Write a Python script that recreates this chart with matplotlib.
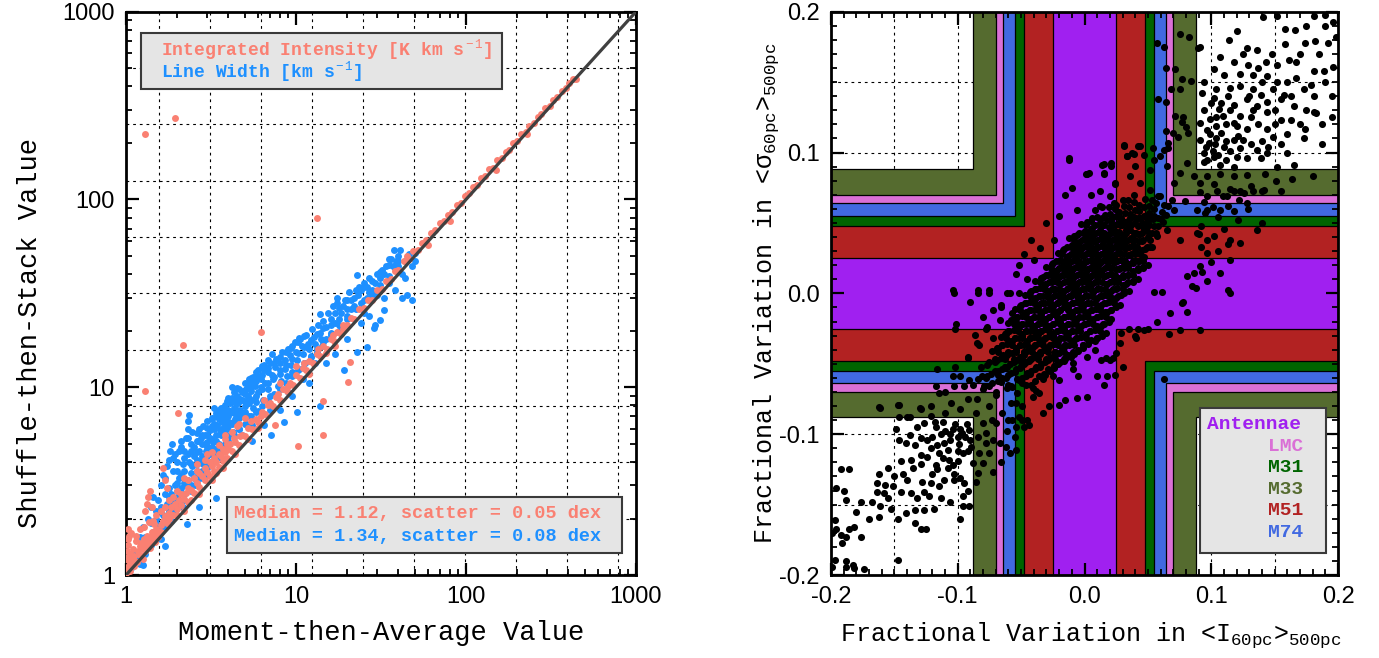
import numpy as np
import matplotlib
matplotlib.use("Agg")
import matplotlib.pyplot as plt
from matplotlib.patches import Rectangle, Polygon
from matplotlib.ticker import LogLocator, MultipleLocator, NullFormatter

plt.rcParams.update({
    "font.family": ["Liberation Mono", "DejaVu Sans"],
    "mathtext.fontset": "custom",
    "mathtext.rm": "Liberation Mono",
    "mathtext.it": "Liberation Mono:italic",
    "mathtext.bf": "Liberation Mono:bold",
    "axes.unicode_minus": False,
})

# ---------------- data: left panel ----------------
# Integrated intensity (salmon): (moment-then-average, shuffle-then-stack)
ii_low = [(1.00,1.02),(1.01,1.10),(1.02,1.25),(1.03,1.45),(1.04,1.62),(1.02,1.75),(1.05,1.15),(1.06,1.30),
          (1.08,1.20),(1.10,1.38),(1.12,1.26),(1.15,1.52),(1.05,1.05),(1.18,1.35),(1.20,1.28),(1.22,1.48),
          (1.25,1.40),(1.28,1.55),(1.30,1.45),(1.33,1.62),(1.35,1.50),(1.40,1.58),(1.42,1.70),(1.45,1.62),
          (1.50,1.75),(1.55,1.72),(1.60,1.85),(1.12,1.12),(1.25,1.22),(1.38,1.40),(1.48,1.50),(1.55,1.60),
          (1.30,2.2),(1.35,2.6),(1.38,2.8),(1.32,2.4),(1.42,2.3),(1.66,3.7),(1.7,3.2),(1.75,2.9),
          (1.1,1.2),(1.2,1.42),(1.3,1.35),(1.4,1.5),(1.5,1.65),(1.6,1.7),(1.01,1.35),(1.03,1.55),
          (1.07,1.68),(1.14,1.62),(1.2,1.75),(1.28,1.8),(1.36,1.92),(1.46,1.88),(1.03,1.2),(1.16,1.18),
          (1.8,2.5),(1.6,2.2),(1.5,2.1),(1.45,1.95)]
ii_mid = [(1.65,1.95),(1.7,2.05),(1.75,1.90),(1.8,2.15),(1.85,2.30),(1.9,2.10),(1.95,2.40),(2.0,2.25),
          (2.05,2.50),(2.1,2.35),(2.2,2.55),(2.25,2.75),(2.3,2.45),(2.4,2.85),(2.5,2.75),(2.6,3.10),
          (2.7,2.95),(2.8,3.35),(2.9,3.20),(3.0,3.55),(3.1,3.35),(3.2,3.80),(3.3,3.60),(3.4,4.00),
          (3.5,3.75),(3.6,4.30),(3.7,4.05),(3.8,4.50),(3.9,4.20),(4.0,4.70),(4.2,4.55),(4.4,5.10),
          (4.6,4.95),(4.8,5.60),(2.2,3.3),(2.6,3.9),(3.0,4.4),(2.4,2.5),(3.4,3.5),(4.5,6.2),(3.8,5.6),
          (1.7,2.3),(1.8,2.0),(1.9,2.6),(2.0,2.1),(2.1,2.7),(2.3,2.9),(2.5,3.3),(2.7,3.5),(2.9,3.7),
          (3.1,4.0),(3.3,4.2),(3.5,4.4),(3.7,4.7),(3.9,5.0),(4.1,5.0),(4.3,5.4),(4.7,5.5),
          (2.0,2.8),(2.3,3.2),(2.6,3.6),(2.9,4.1),(3.2,4.5),(3.5,4.9),(3.8,5.3),(4.2,5.8),(4.6,6.4),
          (5.0,6.9),(2.2,2.2),(2.7,2.7),(3.2,3.2),(3.7,3.7),(4.4,4.4),(5.2,5.3),(6.0,6.1)]
ii_upper = [(5.0,5.5),(5.2,6.1),(5.5,6.0),(5.8,6.8),(6.0,6.5),(6.3,7.4),(6.6,7.2),(7.0,8.2),(7.3,7.9),
            (7.6,8.9),(8.0,8.6),(8.4,9.8),(8.8,9.5),(9.2,10.6),(9.6,10.3),(10.0,11.6),(10.5,11.2),
            (11.0,12.6),(11.5,12.4),(12.0,13.8),(12.6,13.5),(13.2,15.0),(13.8,14.6),(14.5,16.5),
            (15.2,16.0),(16.0,18.0),(16.8,17.6),(17.5,19.6),(18.3,19.2),(19.0,21.5),(8.0,10.6),
            (10.0,13.0),(6.5,8.6),(12.0,11.8),(15.0,15.2),(17,16.5),(5.4,6.6),(6.2,7.0),(6.8,8.0),
            (7.8,9.2),(9.0,10.2),(11.2,13.4),(13.5,15.9),(16.4,19.0),(18.8,20.5),
            (20,21.5),(21,23.5),(22,23.0),(23.5,26),(25,26.3),(26.5,29),(28,29.3),(30,33),(32,33.5),
            (34,37),(36,37.5),(38,41.5),(40,42),(43,47),(46,48),(49,53),(52,54),(55,59),(58,60.5),
            (62,66),(66,68.5),(70,75),(74,76.5),(78,83),(83,86),(88,93),(93,96),(98,104),(45,50),
            (60,57),(80,77)]
ii_top = [(104,108),(110,117),(116,119),(123,130),(130,134),(137,145),(145,148),(153,162),(162,166),
          (171,180),(180,184),(190,200),(200,204),(212,222),(224,229),(236,247),(250,255),(264,275),
          (278,284),(293,306),(310,315),(327,340),(345,352),(365,378),(385,393),(405,418),(428,436),
          (445,440),(150,143),(230,222)]
ii_outliers = [(1.29,223),(1.94,270),(13.3,80),(1.29,9.5),(2.02,7.3),(2.17,16.7),(6.2,19.6),
               (10.3,4.85),(14.5,5.6),(14.5,8.5),(20.3,10.7),(20.9,13.7),(7.55,6.3)]

# Line width (blue)
lw_low = [(1.02,1.05),(1.05,1.2),(1.08,1.1),(1.1,1.3),(1.15,1.25),(1.2,1.15),(1.25,1.4),(1.3,1.3),
          (1.35,1.55),(1.4,1.45),(1.45,1.7),(1.5,1.6),(1.55,1.85),(1.6,1.55),(1.26,1.13),(1.7,1.42),
          (2.28,1.88),(2.67,2.31),(3.4,2.56)]
lw_mid = [(1.65,2.1),(1.7,1.8),(1.75,2.4),(1.8,2.2),(1.85,2.7),(1.9,2.5),(1.95,3.0),(2.0,2.6),
          (2.05,3.3),(2.1,2.9),(2.15,2.3),(2.2,3.6),(2.3,3.2),(2.35,4.0),(2.4,3.5),(2.5,4.3),
          (2.55,3.0),(2.6,3.9),(2.7,4.6),(2.8,3.6),(2.9,5.0),(3.0,4.3),(2.33,6.0),(2.33,6.6),
          (2.35,7.1),(2.3,5.4),(1.9,4.2),(2.1,4.8),(1.7,3.3),(3.1,5.4),(3.2,4.8),(3.3,6.0),
          (3.4,5.2),(3.5,6.8),(3.6,5.6),(3.7,7.4),(3.8,6.2),(3.9,4.9),(4.0,7.0),(4.1,8.2),
          (4.2,6.4),(4.4,7.8),(4.5,9.0),(4.6,6.9),(4.8,8.6),(5.0,7.4),(5.1,9.8),(5.3,8.2),
          (5.5,10.6),(5.7,8.8),(5.9,11.5),(6.0,7.5),(3.6,4.2),(4.8,5.6),(5.5,6.3),(3.0,3.4),
          (4.2,10.0),(3.3,7.8),(4.3,7.3),(4.5,9.9),(5.3,11.1)]
lw_fill = [(1.3,1.6),(1.4,1.9),(1.5,2.0),(1.6,2.3),(1.65,1.75),(1.75,2.0),(1.8,2.6),(1.85,1.95),
           (1.95,2.2),(2.0,3.1),(2.05,2.4),(2.1,3.4),(2.2,2.7),(2.25,3.0),(2.4,2.8),(2.45,3.8),
           (2.5,3.3),(2.6,4.5),(2.65,3.4),(2.75,4.1),(2.8,5.0),(2.85,3.9),(2.95,4.6),(3.0,5.6),
           (3.05,3.9),(3.15,4.4),(3.2,6.2),(3.25,5.1),(3.35,4.5),(3.45,6.3),(3.5,5.0),(3.55,5.9),
           (3.65,6.5),(3.7,4.8),(3.75,5.8),(3.85,7.0),(3.9,6.0),(4.0,5.5),(4.05,6.5),(4.15,7.4),
           (4.25,5.8),(4.3,8.6),(4.35,6.8),(4.5,7.2),(4.55,8.2),(4.65,6.0),(4.7,7.6),(4.8,9.4),
           (4.9,7.0),(5.0,8.4),(5.1,6.4),(5.2,9.0),(5.3,7.0),(5.4,9.5),(5.6,7.8),(5.7,10.2),
           (5.8,8.3),(6.0,9.4),(6.2,11.0),(6.4,8.6),(6.6,10.6),(6.8,12.0),(7.0,9.0),(7.2,11.6),
           (7.5,12.8),(7.8,10.2),(8.0,13.5),(8.2,10.8),(8.6,14.0),(8.9,11.5),(9.2,14.8),(9.5,12.0),
           (10.0,15.5),(10.4,12.5),(10.8,16.5),(11.3,13.5),(11.8,17.0),(12.3,14.5),(12.8,18.5),
           (13.3,15.5),(13.8,19.5),(14.3,16.5),(15,18),(16,23),(17,25),(18,23),(19,27),(20,26),
           (21,29),(22,27),(23,31),(24,33),(26,34),(27,32),(29,36),(31,38),(33,40),(35,45),(37,44),(39,47)]
lw_fill2 = [(1.8,2.4),(1.8,2.9),(2.0,2.8),(2.0,3.6),(2.0,2.35),(2.2,2.5),(2.2,3.1),(2.2,4.2),
            (2.4,3.0),(2.4,3.9),(2.4,4.6),(2.6,3.2),(2.6,3.6),(2.6,4.1),(2.6,5.2),(2.8,3.3),(2.8,4.3),
            (2.8,5.6),(3.0,3.7),(3.0,4.8),(3.0,6.1),(3.0,5.1),(3.2,4.0),(3.2,5.3),(3.2,6.8),(3.4,4.3),
            (3.4,5.6),(3.4,7.3),(3.4,4.7),(3.6,4.6),(3.6,6.0),(3.6,7.8),(3.6,6.9),(3.8,5.0),(3.8,6.6),
            (3.8,8.0),(4.0,5.2),(4.0,6.2),(4.0,7.6),(4.0,8.8),(4.3,5.6),(4.3,6.5),(4.3,7.8),(4.3,9.4),
            (4.6,6.0),(4.6,7.4),(4.6,8.6),(4.6,9.8),(5.0,6.4),(5.0,7.9),(5.0,9.2),(5.0,10.5),(5.4,7.0),
            (5.4,8.6),(5.4,10.0),(5.4,11.2),(5.8,7.4),(5.8,9.0),(5.8,10.8),(5.8,12.0),(6.3,7.9),(6.3,9.8),
            (6.3,11.6),(6.3,13.0),(6.8,8.5),(6.8,10.6),(6.8,12.6),(6.8,14.0),(7.4,9.2),(7.4,11.4),
            (7.4,13.5),(8.0,9.8),(8.0,12.3),(8.0,14.5),(8.7,10.6),(8.7,13.2),(8.7,15.4),(9.5,11.5),
            (9.5,14.2),(9.5,16.6),(10.3,12.4),(10.3,15.2),(10.3,17.4),(11.2,13.4),(11.2,16.4),(11.2,18.8),
            (12.2,14.6),(12.2,17.8),(13.3,16.0),(13.3,19.2),(14.5,17.4),(14.5,20.6),(16,19.5),(16,21.5),
            (18,21.5),(18,26.5),(20,24),(20,29),(22.5,26),(22.5,33),(25,29),(25,34),(28,31),(28,37),
            (31,35),(31,41),(35,39),(35,48),(40,44),(40,47),(45,48)]
lw_upper_edge = [(1.75,3.8),(1.8,4.1),(1.82,4.6),(1.86,5.0),(1.9,3.6),(1.95,4.4),(2.0,4.0),(2.05,4.6),
                 (2.1,5.2),(2.15,3.9),(2.2,4.6),(2.25,5.4),(2.3,4.4),(2.4,5.0),(2.45,5.8),(2.5,4.8),
                 (2.6,5.7),(2.65,5.2),(2.7,6.0),(2.75,5.4),(2.85,6.2),(2.9,5.6),(3.0,6.6),(3.1,5.9),
                 (3.2,6.9),(3.27,6.4),(3.4,7.0),(3.5,7.6),(3.6,7.2),(3.8,7.8),(3.9,8.4),(4.1,7.4),
                 (4.2,8.8),(4.4,8.3),(4.7,8.7),(4.9,9.6),(5.2,10.3),(5.6,11.4),(6.0,12.4),(6.5,13.2),
                 (1.6,3.0),(1.65,3.4),(1.7,2.7),(1.55,2.5),(1.5,2.2),(1.45,2.6),(1.4,2.3),(1.35,2.0),
                 (1.25,1.8),(1.2,1.6)]
lw_lower_edge = [(5.5,5.2),(6.5,6.3),(8,7.6),(9.5,9.0),(12,10.5),(15,13.5),(17,15),(20,18),(24,22),
                 (27,24),(33,30),(38,33),(44,38),(50,47)]
lw_high = [(6.2,10.0),(6.5,12.4),(6.8,9.8),(7.0,13.5),(7.3,11.0),(7.6,14.2),(8.0,11.8),(8.3,15.5),
           (8.6,12.5),(9.0,16.0),(9.4,13.2),(9.8,17.5),(10.2,14.0),(10.6,18.0),(11.0,15.0),(11.5,19.0),
           (12.0,16.0),(12.5,20.5),(13.0,17.0),(13.5,21.5),(14.0,18.0),(14.5,22.5),(7.0,7.6),(9.0,9.4),
           (11.0,11.0),(13.0,13.5),(10.1,7.4),(8.5,6.5),(7.1,5.6),(13.9,7.9),(7.2,15.1),(9.3,16.1),
           (13.9,24.7),(10.4,18.2)]
lw_top = [(15,21),(15.5,25),(16,19),(16.5,27),(17,22),(17.4,28),(17.4,30),(18,20),(18.5,25),(19.1,12.3),
          (19.5,29),(20,23),(20.5,32),(21,26),(22,30),(22.9,39.6),(22.9,15.5),(23.5,34),(24,28),(25,36),
          (26,30),(26.2,16.4),(27,38),(28,33),(28.7,20.6),(29.3,21.4),(30,40),(31.4,22.8),(32,42),
          (32.8,25.8),(34,44),(35,36),(36,48),(37.6,54),(38,43),(40,50),(41,54),(42,40),(44,47),(46,51),
          (48.3,29.1),(48,44),(50,52),(45,31),(42,30),(25,25),(30,31)]

ii_label = r"Integrated Intensity [K km s$^{\rm -1}$]"
lw_label = r"Line Width [km s$^{\rm -1}$]"
ii_stats = "Median = 1.12, scatter = 0.05 dex"
lw_stats = "Median = 1.34, scatter = 0.08 dex"
log_ticks = [1, 10, 100, 1000]
log_ticklabels = ["1", "10", "100", "1000"]

# ---------------- data: right panel ----------------
galaxies = ["M33", "LMC", "M74", "M31", "M51", "Antennae"]
band_halfwidth = [0.088, 0.070, 0.064, 0.055, 0.048, 0.025]
band_colors = ["#556B2F", "#DA70D6", "#4169E1", "#006400", "#B22222", "#A020F0"]
legend_order = ["Antennae", "LMC", "M31", "M33", "M51", "M74"]
frac_ticks = [-0.2, -0.1, 0.0, 0.1, 0.2]
frac_ticklabels = ["-0.2", "-0.1", "0.0", "0.1", "0.2"]

pts_upper_right = [(0.120,0.186),(0.141,0.196),(0.152,0.197),(0.166,0.187),(0.181,0.197),(0.190,0.198),
    (0.196,0.193),(0.175,0.190),(0.158,0.177),(0.174,0.178),(0.182,0.179),(0.192,0.178),(0.114,0.180),
    (0.128,0.174),(0.136,0.173),(0.107,0.168),(0.118,0.164),(0.129,0.162),(0.143,0.164),(0.152,0.162),
    (0.161,0.166),(0.167,0.164),(0.181,0.158),(0.189,0.158),(0.196,0.161),(0.102,0.159),(0.123,0.156),
    (0.133,0.155),(0.144,0.154),(0.152,0.150),(0.167,0.153),(0.179,0.148),(0.190,0.150),(0.094,0.150),
    (0.104,0.145),(0.115,0.146),(0.123,0.147),(0.133,0.145),(0.139,0.141),(0.149,0.145),(0.157,0.141),
    (0.163,0.140),(0.173,0.145),(0.181,0.140),(0.102,0.139),(0.108,0.135),(0.118,0.134),(0.128,0.138),
    (0.136,0.133),(0.144,0.136),(0.155,0.138),(0.165,0.133),(0.175,0.130),(0.183,0.128),(0.094,0.130),
    (0.104,0.125),(0.115,0.130),(0.123,0.126),(0.133,0.130),(0.144,0.129),(0.155,0.123),(0.163,0.123),
    (0.174,0.117),(0.181,0.129),(0.091,0.121),(0.097,0.116),(0.104,0.119),(0.112,0.120),(0.120,0.119),
    (0.128,0.117),(0.137,0.120),(0.144,0.117),(0.149,0.111),(0.160,0.113),(0.091,0.109),(0.098,0.107),
    (0.104,0.110),(0.110,0.104),(0.118,0.109),(0.123,0.103),(0.131,0.106),(0.136,0.102),(0.145,0.104),
    (0.155,0.106),(0.187,0.106),(0.094,0.100),(0.102,0.097),(0.112,0.095),(0.120,0.097),(0.128,0.096),
    (0.139,0.096),(0.144,0.100),(0.152,0.090),(0.094,0.093),(0.107,0.091),(0.118,0.090),(0.165,0.091),
    (0.096,0.104),(0.099,0.113),(0.101,0.101),(0.105,0.098),(0.108,0.114),(0.112,0.108),(0.097,0.095),
    (0.103,0.106),(0.115,0.101),(0.118,0.121),(0.121,0.112),(0.109,0.126),(0.125,0.109),(0.131,0.125),
    (0.099,0.124),(0.106,0.131),(0.170,0.170),(0.185,0.170),(0.160,0.150),(0.140,0.150),(0.130,0.140),
    (0.150,0.130),(0.170,0.120),(0.190,0.190),(0.198,0.182),(0.110,0.155),(0.125,0.170),(0.137,0.160),
    (0.148,0.170),(0.158,0.188),(0.093,0.142),(0.100,0.135),(0.113,0.140),(0.140,0.108),(0.150,0.120),
    (0.160,0.100),(0.173,0.110),(0.195,0.140),(0.187,0.120),(0.195,0.125)]
pts_right_band = [(0.097,0.083),(0.107,0.085),(0.118,0.083),(0.128,0.084),(0.142,0.085),(0.151,0.080),
    (0.164,0.081),(0.180,0.083),(0.102,0.078),(0.115,0.074),(0.123,0.073),(0.131,0.076),(0.140,0.073),
    (0.091,0.072),(0.109,0.069),(0.122,0.066),(0.094,0.065),(0.101,0.061),(0.113,0.062),(0.129,0.060),
    (0.095,0.057),(0.105,0.054),(0.121,0.052),(0.140,0.050),(0.092,0.048),(0.110,0.046),(0.090,0.042),
    (0.097,0.038),(0.113,0.035),(0.105,0.030),(0.092,0.033),(0.100,0.022),(0.093,0.015),(0.097,0.009),
    (0.115,0.024),(0.155,0.073)]
pts_upper_column = [(0.0755,0.184),(0.064,0.160),(0.077,0.152),(0.068,0.145),(0.057,0.178),(0.058,0.138),
    (0.071,0.126),(0.077,0.122),(0.064,0.115),(0.074,0.111),(0.082,0.114),(0.054,0.103),(0.066,0.107),
    (0.0913,0.175),(0.063,0.175),(0.0713,0.159),(0.0643,0.136),(0.0755,0.145),(0.0839,0.151),(0.078,0.125),
    (0.0797,0.118),(0.070,0.114),(0.0657,0.1035),(0.0825,0.182),(0.0895,0.174),(0.0308,0.1047),
    (0.042,0.1047),(0.0336,0.0976),(0.039,0.099),(0.0154,0.0918),(0.021,0.0906),(-0.0126,0.0946),
    (0.0014,0.0847),(0.0154,0.0847),(0.0238,0.0776),(0.0126,0.0729)]
pts_lower_left = [(-0.146,-0.0875),(-0.140,-0.088),(-0.121,-0.087),(-0.129,-0.082),(-0.149,-0.096),
    (-0.132,-0.095),(-0.127,-0.092),(-0.117,-0.095),(-0.112,-0.091),(-0.110,-0.098),(-0.104,-0.096),
    (-0.100,-0.102),(-0.098,-0.096),(-0.094,-0.102),(-0.090,-0.104),(-0.138,-0.1005),(-0.146,-0.104),
    (-0.141,-0.106),(-0.134,-0.108),(-0.129,-0.103),(-0.124,-0.104),(-0.120,-0.102),(-0.116,-0.108),
    (-0.111,-0.106),(-0.106,-0.104),(-0.100,-0.112),(-0.096,-0.1135),(-0.092,-0.112),(-0.108,-0.111),
    (-0.115,-0.1135),(-0.121,-0.110),(-0.129,-0.115),(-0.137,-0.118),(-0.145,-0.119),(-0.124,-0.116),
    (-0.117,-0.122),(-0.107,-0.118),(-0.100,-0.119),(-0.116,-0.125),(-0.108,-0.124),(-0.103,-0.128),
    (-0.098,-0.131),(-0.129,-0.121),(-0.143,-0.128),(-0.162,-0.128),(-0.155,-0.124),(-0.192,-0.125),
    (-0.186,-0.125),(-0.164,-0.135),(-0.157,-0.136),(-0.151,-0.137),(-0.140,-0.1325),(-0.128,-0.134),
    (-0.121,-0.135),(-0.115,-0.137),(-0.111,-0.1325),(-0.103,-0.1325),(-0.095,-0.135),(-0.164,-0.141),
    (-0.158,-0.142),(-0.145,-0.141),(-0.137,-0.142),(-0.132,-0.1455),(-0.127,-0.141),(-0.123,-0.144),
    (-0.113,-0.1455),(-0.106,-0.148),(-0.096,-0.144),(-0.091,-0.151),(-0.176,-0.148),(-0.168,-0.148),
    (-0.161,-0.151),(-0.153,-0.153),(-0.147,-0.160),(-0.141,-0.156),(-0.134,-0.154),(-0.127,-0.154),
    (-0.119,-0.153),(-0.162,-0.1585),(-0.134,-0.163),(-0.129,-0.167),(-0.125,-0.167),(-0.197,-0.161),
    (-0.196,-0.167),(-0.192,-0.1715),(-0.188,-0.173),(-0.186,-0.167),(-0.182,-0.166),(-0.176,-0.173),
    (-0.191,-0.177),(-0.199,-0.170),(-0.147,-0.189),(-0.188,-0.190),(-0.188,-0.194),(-0.183,-0.193),
    (-0.182,-0.195),(-0.174,-0.196),(-0.197,-0.189),(-0.199,-0.194),(-0.190,-0.140),(-0.188,-0.147),
    (-0.196,-0.138),(-0.092,-0.140),(-0.096,-0.151),(-0.098,-0.160),(-0.093,-0.093),(-0.097,-0.099),
    (-0.102,-0.093),(-0.106,-0.100),(-0.113,-0.100),(-0.118,-0.091),(-0.091,-0.097),(-0.099,-0.107),
    (-0.104,-0.122),(-0.112,-0.117),(-0.120,-0.128),(-0.135,-0.124),(-0.150,-0.130),(-0.170,-0.160),
    (-0.155,-0.145),(-0.180,-0.155)]
pts_left_band = [(-0.0855,-0.085),(-0.080,-0.092),(-0.084,-0.1017),(-0.0775,-0.0994),(-0.072,-0.104),
    (-0.083,-0.1135),(-0.075,-0.1135),(-0.067,-0.1064),(-0.0895,-0.109),(-0.080,-0.1206),(-0.084,-0.1277),
    (-0.066,-0.1194),(-0.072,-0.1265),(-0.0855,-0.1336),(-0.088,-0.1206),(-0.0775,-0.1064),(-0.059,-0.1135),
    (-0.054,-0.111),(-0.061,-0.098),(-0.0696,-0.092),(-0.054,-0.0946),(-0.049,-0.090),(-0.162,-0.081),
    (-0.146,-0.079),(-0.121,-0.080),(-0.116,-0.054),(-0.102,-0.052),(-0.092,-0.046),(-0.115,-0.071),
    (-0.110,-0.070),(-0.103,-0.066),(-0.095,-0.066),(-0.117,-0.066),(-0.091,-0.0615),(-0.098,-0.059),
    (-0.104,-0.059),(-0.161,-0.0817),(-0.147,-0.079),(-0.138,-0.088),(-0.130,-0.0817),(-0.085,-0.035),
    (-0.077,-0.024),(-0.101,-0.022),(-0.085,-0.075),(-0.080,-0.068),(-0.075,-0.080),(-0.070,-0.072),
    (-0.065,-0.085),(-0.060,-0.065),(-0.078,-0.060),(-0.068,-0.058),(-0.088,-0.065),(-0.058,-0.078),
    (-0.063,-0.052),(-0.082,-0.052),(-0.073,-0.090),(-0.092,-0.075),(-0.098,-0.082),(-0.105,-0.078),
    (-0.110,-0.085),(-0.055,-0.102),(-0.062,-0.109),(-0.048,-0.095),(-0.060,-0.090)]
pts_left_row = [(-0.103,0.000),(-0.090,-0.006),(-0.084,0.000),(-0.075,0.000),(-0.080,-0.0165),
    (-0.072,-0.012),(-0.066,-0.008),(-0.061,0.000),(-0.057,-0.014),(-0.0515,0.000),(-0.0775,-0.025),
    (-0.067,-0.019),(-0.102,-0.025),(-0.086,-0.0295),(-0.083,-0.0366),(-0.092,-0.045),(-0.062,-0.028),
    (-0.072,-0.032),(-0.054,-0.020),(-0.1035,0.0024),(-0.084,0.0024),(-0.0755,0.0024)]
pts_below_core = [(-0.057,-0.0898),(-0.0515,-0.0875),(-0.045,-0.0898),(-0.044,-0.0934),(-0.049,-0.080),
    (-0.054,-0.078),(-0.033,-0.085),(-0.028,-0.080),(-0.020,-0.079),(-0.015,-0.0757),(-0.006,-0.0745),
    (0.002,-0.0733),(-0.041,-0.0733),(-0.036,-0.071),(-0.0515,-0.0615),(-0.025,-0.059),(-0.020,-0.0615),
    (-0.009,-0.054),(-0.005,-0.059),(0.010,-0.059),(0.018,-0.059),(0.024,-0.058),(0.013,-0.047),
    (0.020,-0.047),(0.008,-0.040),(0.002,-0.045),(-0.015,-0.046),(-0.009,-0.0496),(0.028,-0.035),
    (0.035,-0.025),(0.025,-0.042),(0.040,-0.030),(0.030,-0.052),(0.015,-0.065),(0.063,-0.061),
    (0.042,-0.0256),(0.050,-0.0256),(0.067,-0.029),(0.029,-0.028),(0.0405,-0.0317),(0.0168,-0.046),
    (0.0224,-0.046),(0.078,-0.006),(0.081,-0.0134),(0.1133,0.0024),(0.088,0.0037),(0.0545,0.0012),
    (0.0615,0.0012)]
pts_halo_ur = [(0.031,0.1055),(0.0375,0.0996),(0.0441,0.1043),(0.0467,0.0984),(0.0546,0.0949),
    (0.0625,0.1020),(0.0598,0.0973),(0.0520,0.0878),(0.0402,0.0901),(0.0336,0.0973),(0.0205,0.0925),
    (0.0152,0.0854),(0.0244,0.0783),(0.0034,0.0854),(0.0139,0.0913),(-0.0123,0.0961),(0.0651,0.0901),
    (0.0703,0.0783),(0.0756,0.0854),(0.0808,0.0925),(0.0861,0.0830),(0.0913,0.0783),(0.0966,0.0688),
    (0.1045,0.0724),(0.1123,0.0688),(0.1176,0.0724),(0.1255,0.0712),(0.1333,0.0724),(0.1412,0.0736),
    (0.1281,0.0641),(0.1360,0.0452),(0.1176,0.0582),(0.1071,0.0594),(0.0966,0.0594),(0.0887,0.0594),
    (0.0795,0.0653),(0.0703,0.0594),(0.0598,0.0688),(0.0520,0.0736),(0.0441,0.0783),(0.0362,0.0830),
    (0.0546,0.0546),(0.0651,0.0452),(0.0756,0.0380),(0.0887,0.0428),(0.1018,0.0404),(0.1150,0.0380),
    (0.1228,0.0357),(0.0966,0.0286),(0.0861,0.0144),(0.0808,0.0120),(0.0913,0.0191),(0.1071,0.0144),
    (0.1150,0.0002),(0.0848,0.0049),(0.0769,-0.0070),(0.0677,-0.0141),(0.0572,-0.0200),(0.0467,-0.0259),
    (0.0756,-0.0259),(0.0913,-0.0259)]
pts_halo_ul = [(-0.0425,0.038),(-0.040,0.024),(-0.054,0.014),(-0.059,0.000),(-0.024,0.038),(-0.006,0.059),
    (0.002,0.085),(-0.030,0.050),(-0.015,0.070),(-0.048,0.028),(-0.035,0.032),(-0.020,0.055),
    (-0.010,0.075),(0.005,0.070),(0.012,0.062),(-0.066,-0.010),(-0.045,0.010),(-0.052,0.020)]
pts_core = [
    (-0.079,-0.066),(-0.070,-0.070),(-0.061,-0.067),(-0.053,-0.071),(-0.046,-0.065),(-0.038,-0.069),
    (-0.084,-0.061),(-0.073,-0.064),(-0.065,-0.060),(-0.058,-0.066),(-0.050,-0.062),(-0.042,-0.065),(-0.033,-0.061),
    (-0.081,-0.059),(-0.071,-0.055),(-0.062,-0.060),(-0.055,-0.056),(-0.049,-0.060),(-0.043,-0.057),(-0.036,-0.059),(-0.027,-0.055),
    (-0.077,-0.051),(-0.068,-0.055),(-0.061,-0.052),(-0.054,-0.054),(-0.048,-0.050),(-0.042,-0.055),(-0.035,-0.052),(-0.029,-0.054),(-0.021,-0.050),
    (-0.075,-0.049),(-0.066,-0.046),(-0.059,-0.050),(-0.052,-0.047),(-0.046,-0.049),(-0.040,-0.045),(-0.034,-0.050),(-0.027,-0.046),(-0.019,-0.049),(-0.011,-0.045),
    (-0.073,-0.041),(-0.064,-0.044),(-0.057,-0.042),(-0.051,-0.045),(-0.045,-0.041),(-0.038,-0.044),(-0.032,-0.040),(-0.026,-0.045),(-0.020,-0.042),(-0.013,-0.044),(-0.005,-0.041),
    (-0.069,-0.039),(-0.061,-0.036),(-0.054,-0.040),(-0.048,-0.037),(-0.042,-0.039),(-0.036,-0.035),(-0.030,-0.040),(-0.024,-0.036),(-0.018,-0.039),(-0.012,-0.037),(-0.005,-0.040),(0.003,-0.036),
    (-0.066,-0.031),(-0.058,-0.034),(-0.052,-0.032),(-0.046,-0.035),(-0.040,-0.031),(-0.034,-0.034),(-0.028,-0.030),(-0.022,-0.035),(-0.016,-0.032),(-0.010,-0.034),(-0.003,-0.031),(0.005,-0.033),(0.014,-0.030),
    (-0.063,-0.029),(-0.056,-0.026),(-0.049,-0.030),(-0.043,-0.027),(-0.037,-0.029),(-0.031,-0.025),(-0.025,-0.030),(-0.019,-0.026),(-0.013,-0.029),(-0.007,-0.027),(0.000,-0.030),(0.008,-0.026),(0.017,-0.028),
    (-0.060,-0.021),(-0.052,-0.024),(-0.046,-0.022),(-0.040,-0.025),(-0.034,-0.021),(-0.028,-0.024),(-0.022,-0.020),(-0.016,-0.025),(-0.010,-0.022),(-0.004,-0.024),(0.003,-0.021),(0.010,-0.023),(0.019,-0.020),
    (-0.058,-0.019),(-0.049,-0.016),(-0.043,-0.020),(-0.037,-0.017),(-0.031,-0.019),(-0.025,-0.015),(-0.019,-0.020),(-0.013,-0.016),(-0.007,-0.019),(-0.001,-0.017),(0.006,-0.020),(0.013,-0.016),(0.021,-0.018),
    (-0.055,-0.011),(-0.046,-0.014),(-0.040,-0.012),(-0.034,-0.015),(-0.028,-0.011),(-0.022,-0.014),(-0.016,-0.010),(-0.010,-0.015),(-0.004,-0.012),(0.002,-0.014),(0.009,-0.011),(0.016,-0.013),(0.025,-0.010),
    (-0.051,-0.009),(-0.043,-0.006),(-0.037,-0.010),(-0.031,-0.007),(-0.025,-0.009),(-0.019,-0.005),(-0.013,-0.010),(-0.007,-0.006),(-0.001,-0.009),(0.005,-0.007),(0.012,-0.010),(0.019,-0.006),(0.028,-0.008),
    (-0.047,-0.001),(-0.039,-0.004),(-0.033,-0.002),(-0.027,-0.005),(-0.021,-0.001),(-0.015,-0.004),(-0.009,0.000),(-0.003,-0.005),(0.003,-0.002),(0.009,-0.004),(0.015,-0.001),(0.022,-0.003),(0.031,0.000),
    (-0.043,0.001),(-0.035,0.004),(-0.029,0.000),(-0.023,0.003),(-0.017,0.001),(-0.011,0.005),(-0.005,0.000),(0.001,0.004),(0.007,0.001),(0.013,0.003),(0.019,0.000),(0.026,0.004),(0.035,0.002),
    (-0.039,0.009),(-0.031,0.006),(-0.025,0.010),(-0.019,0.007),(-0.013,0.009),(-0.007,0.005),(-0.001,0.010),(0.005,0.006),(0.011,0.009),(0.017,0.007),(0.023,0.010),(0.030,0.006),(0.038,0.008),
    (-0.034,0.011),(-0.027,0.014),(-0.021,0.012),(-0.015,0.015),(-0.009,0.011),(-0.003,0.014),(0.003,0.010),(0.009,0.015),(0.015,0.012),(0.021,0.014),(0.027,0.011),(0.034,0.013),(0.042,0.010),
    (-0.030,0.019),(-0.023,0.016),(-0.017,0.020),(-0.011,0.017),(-0.005,0.019),(0.001,0.015),(0.007,0.020),(0.013,0.016),(0.019,0.019),(0.025,0.017),(0.031,0.020),(0.038,0.016),(0.046,0.018),
    (-0.026,0.021),(-0.019,0.024),(-0.013,0.022),(-0.007,0.025),(-0.001,0.021),(0.005,0.024),(0.011,0.020),(0.017,0.025),(0.023,0.022),(0.029,0.024),(0.035,0.021),(0.042,0.023),(0.050,0.020),
    (-0.021,0.029),(-0.014,0.026),(-0.008,0.030),(-0.002,0.027),(0.004,0.029),(0.010,0.025),(0.016,0.030),(0.022,0.026),(0.028,0.029),(0.034,0.027),(0.040,0.030),(0.047,0.026),
    (-0.017,0.031),(-0.010,0.034),(-0.004,0.032),(0.002,0.035),(0.008,0.031),(0.014,0.034),(0.020,0.030),(0.026,0.035),(0.032,0.032),(0.038,0.034),(0.045,0.031),(0.053,0.033),
    (-0.012,0.039),(-0.005,0.036),(0.001,0.040),(0.007,0.037),(0.013,0.039),(0.019,0.035),(0.025,0.040),(0.031,0.036),(0.037,0.039),(0.043,0.037),(0.050,0.040),
    (-0.008,0.041),(0.000,0.044),(0.006,0.042),(0.012,0.045),(0.018,0.041),(0.024,0.044),(0.030,0.040),(0.036,0.045),(0.042,0.042),(0.049,0.044),(0.057,0.041),
    (-0.003,0.049),(0.005,0.046),(0.012,0.050),(0.019,0.047),(0.026,0.049),(0.033,0.045),(0.040,0.050),(0.047,0.046),(0.055,0.048),
    (0.002,0.051),(0.010,0.054),(0.018,0.052),(0.025,0.055),(0.032,0.051),(0.039,0.054),(0.046,0.050),(0.054,0.053),(0.062,0.051),
    (0.008,0.059),(0.016,0.056),(0.024,0.060),(0.032,0.057),(0.040,0.059),(0.047,0.055),(0.055,0.060),(0.064,0.056),
    (0.014,0.061),(0.023,0.064),(0.031,0.062),(0.039,0.065),(0.047,0.061),(0.056,0.064),(0.066,0.062),
    (0.020,0.069),(0.030,0.066),(0.039,0.070),(0.048,0.067),(0.058,0.069),(0.069,0.066)]
pts_core_fill = [
    (-0.075,-0.0655),(-0.066,-0.063),(-0.057,-0.0665),(-0.049,-0.064),(-0.041,-0.067),
    (-0.077,-0.0585),(-0.068,-0.062),(-0.060,-0.058),(-0.053,-0.061),(-0.046,-0.0585),(-0.039,-0.062),(-0.031,-0.058),
    (-0.074,-0.057),(-0.065,-0.0535),(-0.058,-0.0565),(-0.051,-0.053),(-0.045,-0.0565),(-0.039,-0.0535),(-0.032,-0.057),(-0.024,-0.053),
    (-0.071,-0.0485),(-0.063,-0.052),(-0.056,-0.0485),(-0.050,-0.0515),(-0.044,-0.048),(-0.038,-0.052),(-0.031,-0.0485),(-0.024,-0.0515),(-0.016,-0.048),
    (-0.069,-0.047),(-0.061,-0.0435),(-0.054,-0.047),(-0.048,-0.0435),(-0.042,-0.0465),(-0.035,-0.043),(-0.029,-0.047),(-0.023,-0.0435),(-0.016,-0.0465),(-0.008,-0.043),
    (-0.068,-0.0385),(-0.060,-0.042),(-0.054,-0.0385),(-0.048,-0.0415),(-0.041,-0.038),(-0.035,-0.042),(-0.029,-0.0385),(-0.023,-0.0415),(-0.016,-0.038),(-0.009,-0.042),(-0.001,-0.0385),
    (-0.065,-0.037),(-0.057,-0.0335),(-0.051,-0.037),(-0.045,-0.0335),(-0.039,-0.0365),(-0.033,-0.033),(-0.027,-0.037),(-0.021,-0.0335),(-0.015,-0.0365),(-0.008,-0.033),(-0.001,-0.037),(0.008,-0.0335),
    (-0.062,-0.0285),(-0.055,-0.032),(-0.049,-0.0285),(-0.043,-0.0315),(-0.037,-0.028),(-0.031,-0.032),(-0.025,-0.0285),(-0.019,-0.0315),(-0.013,-0.028),(-0.006,-0.032),(0.001,-0.0285),(0.010,-0.0315),
    (-0.060,-0.027),(-0.053,-0.0235),(-0.046,-0.027),(-0.040,-0.0235),(-0.034,-0.0265),(-0.028,-0.023),(-0.022,-0.027),(-0.016,-0.0235),(-0.010,-0.0265),(-0.003,-0.023),(0.004,-0.027),(0.013,-0.0235),
    (-0.056,-0.0185),(-0.049,-0.022),(-0.043,-0.0185),(-0.037,-0.0215),(-0.031,-0.018),(-0.025,-0.022),(-0.019,-0.0185),(-0.013,-0.0215),(-0.007,-0.018),(0.000,-0.022),(0.007,-0.0185),(0.015,-0.0215),
    (-0.053,-0.017),(-0.046,-0.0135),(-0.040,-0.017),(-0.034,-0.0135),(-0.028,-0.0165),(-0.022,-0.013),(-0.016,-0.017),(-0.010,-0.0135),(-0.004,-0.0165),(0.003,-0.013),(0.010,-0.017),(0.018,-0.0135),
    (-0.050,-0.0085),(-0.043,-0.012),(-0.037,-0.0085),(-0.031,-0.0115),(-0.025,-0.008),(-0.019,-0.012),(-0.013,-0.0085),(-0.007,-0.0115),(-0.001,-0.008),(0.006,-0.012),(0.013,-0.0085),(0.021,-0.0115),
    (-0.046,-0.007),(-0.039,-0.0035),(-0.033,-0.007),(-0.027,-0.0035),(-0.021,-0.0065),(-0.015,-0.003),(-0.009,-0.007),(-0.003,-0.0035),(0.003,-0.0065),(0.010,-0.003),(0.017,-0.007),(0.025,-0.0035),
    (-0.042,0.0015),(-0.035,-0.002),(-0.029,0.0015),(-0.023,-0.0015),(-0.017,0.002),(-0.011,-0.002),(-0.005,0.0015),(0.001,-0.0015),(0.007,0.002),(0.014,-0.002),(0.021,0.0015),(0.029,-0.0015),
    (-0.038,0.003),(-0.031,0.0065),(-0.025,0.003),(-0.019,0.0065),(-0.013,0.0035),(-0.007,0.007),(-0.001,0.003),(0.005,0.0065),(0.011,0.0035),(0.018,0.007),(0.025,0.003),(0.033,0.0065),
    (-0.033,0.0115),(-0.026,0.008),(-0.020,0.0115),(-0.014,0.0085),(-0.008,0.012),(-0.002,0.008),(0.004,0.0115),(0.010,0.0085),(0.016,0.012),(0.023,0.008),(0.030,0.0115),(0.038,0.0085),
    (-0.029,0.013),(-0.022,0.0165),(-0.016,0.013),(-0.010,0.0165),(-0.004,0.0135),(0.002,0.017),(0.008,0.013),(0.014,0.0165),(0.020,0.0135),(0.027,0.017),(0.034,0.013),(0.042,0.0165),
    (-0.025,0.0215),(-0.018,0.018),(-0.012,0.0215),(-0.006,0.0185),(0.000,0.022),(0.006,0.018),(0.012,0.0215),(0.018,0.0185),(0.024,0.022),(0.031,0.018),(0.038,0.0215),(0.046,0.0185),
    (-0.020,0.023),(-0.013,0.0265),(-0.007,0.023),(-0.001,0.0265),(0.005,0.0235),(0.011,0.027),(0.017,0.023),(0.023,0.0265),(0.029,0.0235),(0.036,0.027),(0.043,0.023),
    (-0.016,0.0315),(-0.009,0.028),(-0.003,0.0315),(0.003,0.0285),(0.009,0.032),(0.015,0.028),(0.021,0.0315),(0.027,0.0285),(0.033,0.032),(0.040,0.028),(0.048,0.0315),
    (-0.011,0.033),(-0.004,0.0365),(0.002,0.033),(0.008,0.0365),(0.014,0.0335),(0.020,0.037),(0.026,0.033),(0.032,0.0365),(0.038,0.0335),(0.045,0.037),(0.052,0.033),
    (-0.006,0.0415),(0.001,0.038),(0.007,0.0415),(0.013,0.0385),(0.019,0.042),(0.025,0.038),(0.031,0.0415),(0.037,0.0385),(0.044,0.042),(0.052,0.038),
    (-0.001,0.043),(0.006,0.0465),(0.013,0.043),(0.020,0.0465),(0.027,0.0435),(0.034,0.047),(0.041,0.043),(0.048,0.0465),(0.056,0.043),
    (0.005,0.0515),(0.013,0.048),(0.021,0.0515),(0.028,0.0485),(0.035,0.052),(0.042,0.048),(0.050,0.0515),(0.058,0.048),
    (0.012,0.053),(0.020,0.0565),(0.028,0.053),(0.036,0.0565),(0.044,0.0535),(0.051,0.057),(0.060,0.053),
    (0.019,0.0615),(0.027,0.058),(0.035,0.0615),(0.043,0.0585),(0.051,0.062),(0.061,0.058),
    (0.025,0.063),(0.034,0.0665),(0.043,0.063),(0.053,0.0665),(0.063,0.063)]
# extra rows of the densest part of the cloud: one y level and its x values per row
core_rows_y = [-0.0468, -0.0418, -0.0368, -0.0318, -0.0268, -0.0218, -0.0168, -0.0118, -0.0068,
               -0.0018, 0.0032, 0.0082, 0.0132, 0.0182, 0.0232, 0.0282, 0.0332, 0.0382, 0.0432,
               0.0482, 0.0532]
core_rows_x = [
    [-0.0705,-0.0625,-0.0555,-0.049,-0.043,-0.037,-0.0305,-0.023,-0.015],
    [-0.0685,-0.0605,-0.054,-0.048,-0.0415,-0.035,-0.029,-0.023,-0.0165,-0.009],
    [-0.065,-0.0575,-0.051,-0.045,-0.039,-0.033,-0.027,-0.021,-0.015,-0.0085,-0.001],
    [-0.062,-0.055,-0.049,-0.043,-0.037,-0.031,-0.025,-0.019,-0.013,-0.0065,0.001,0.0095],
    [-0.0595,-0.0525,-0.046,-0.040,-0.034,-0.028,-0.022,-0.016,-0.010,-0.0035,0.004,0.0125],
    [-0.056,-0.049,-0.043,-0.037,-0.031,-0.025,-0.019,-0.013,-0.007,-0.0005,0.0065,0.0145],
    [-0.0535,-0.046,-0.040,-0.034,-0.028,-0.022,-0.016,-0.010,-0.004,0.0025,0.0095,0.017],
    [-0.0505,-0.043,-0.037,-0.031,-0.025,-0.019,-0.013,-0.007,-0.001,0.0055,0.0125,0.0205],
    [-0.047,-0.040,-0.034,-0.028,-0.022,-0.016,-0.010,-0.004,0.002,0.0085,0.0155,0.0235],
    [-0.043,-0.036,-0.030,-0.024,-0.018,-0.012,-0.006,0.000,0.006,0.012,0.0185,0.0265],
    [-0.039,-0.032,-0.026,-0.020,-0.014,-0.008,-0.002,0.004,0.010,0.016,0.0225,0.0305],
    [-0.035,-0.028,-0.022,-0.016,-0.010,-0.004,0.002,0.008,0.014,0.020,0.0265,0.034],
    [-0.0305,-0.024,-0.018,-0.012,-0.006,0.000,0.006,0.012,0.018,0.024,0.0305,0.038],
    [-0.0265,-0.020,-0.014,-0.008,-0.002,0.004,0.010,0.016,0.022,0.028,0.0345,0.042],
    [-0.0225,-0.016,-0.010,-0.004,0.002,0.008,0.014,0.020,0.026,0.032,0.0385,0.046],
    [-0.0175,-0.011,-0.005,0.001,0.007,0.013,0.019,0.025,0.031,0.037,0.0435],
    [-0.0135,-0.007,-0.001,0.005,0.011,0.017,0.023,0.029,0.035,0.0415,0.049],
    [-0.0085,-0.002,0.004,0.010,0.016,0.022,0.028,0.034,0.040,0.0465],
    [-0.004,0.003,0.009,0.015,0.021,0.027,0.033,0.039,0.0455,0.053],
    [0.001,0.0085,0.0155,0.0225,0.0295,0.0365,0.0435,0.051],
    [0.006,0.014,0.0215,0.0285,0.0355,0.0425,0.050,0.058]]

# ---------------- figure ----------------
fig = plt.figure(figsize=(13.79, 6.58), dpi=100)
ax1 = fig.add_axes([0.0914, 0.1261, 0.3698, 0.8561])
ax2 = fig.add_axes([0.6026, 0.1261, 0.3677, 0.8561])

tick_font = dict(fontfamily="Liberation Sans", fontsize=17)
label_font = dict(fontfamily="Liberation Mono", fontsize=19.5)
label_font_r = dict(fontfamily="Liberation Mono", fontsize=18)

def style_axes(ax):
    for sp in ax.spines.values():
        sp.set_linewidth(2.0)
    ax.tick_params(which="both", direction="in", top=True, right=True)
    ax.tick_params(which="major", length=9, width=1.6, pad=8)
    ax.tick_params(which="minor", length=4.5, width=1.3)

# ----- left panel -----
salmon = "#FA8072"
blue = "#1E90FF"
ii = ii_low + ii_mid + ii_upper + ii_top + ii_outliers
lw = lw_low + lw_mid + lw_fill + lw_fill2 + lw_upper_edge + lw_lower_edge + lw_high + lw_top
ax1.set_xscale("log")
ax1.set_yscale("log")
ax1.set_xlim(1, 1000)
ax1.set_ylim(1, 1000)
grid_dash = (0, (2.5, 3.5))
for k in range(10):
    ax1.axvline(10 ** (0.196 + 0.3 * k), color="k", lw=0.8, ls=grid_dash, zorder=0.5)
for k in range(1, 10):
    ax1.axhline(10 ** (0.3 * k), color="k", lw=0.8, ls=grid_dash, zorder=0.5)
ax1.scatter([p[0] for p in lw], [p[1] for p in lw], s=25, c=blue, linewidths=0, zorder=2)
ax1.scatter([p[0] for p in ii], [p[1] for p in ii], s=25, c=salmon, linewidths=0, zorder=3)
ax1.plot([1, 1000], [1, 1000], color="#404040", lw=2.3, zorder=4)
style_axes(ax1)
ax1.xaxis.set_minor_locator(LogLocator(base=10, subs=np.arange(2, 10)))
ax1.yaxis.set_minor_locator(LogLocator(base=10, subs=np.arange(2, 10)))
ax1.xaxis.set_minor_formatter(NullFormatter())
ax1.yaxis.set_minor_formatter(NullFormatter())
ax1.set_xticks(log_ticks, labels=log_ticklabels, **tick_font)
ax1.set_yticks(log_ticks, labels=log_ticklabels, **tick_font)
ax1.set_xlabel("Moment-then-Average Value", **label_font)
ax1.set_ylabel("Shuffle-then-Stack Value", **label_font)
ax1.xaxis.set_label_coords(0.5, -0.08)
ax1.yaxis.set_label_coords(-0.162, 0.43)

box_kw = dict(facecolor="#E5E5E5", edgecolor="#3A3A3A", lw=1.5, zorder=6)
ax1.add_patch(Rectangle((0.0288, 0.8623), 0.7079, 0.0994, transform=ax1.transAxes, **box_kw))
ax1.text(0.0686, 0.932, ii_label, color=salmon, transform=ax1.transAxes, fontsize=13,
         fontweight="bold", va="center", ha="left", zorder=7)
ax1.text(0.0686, 0.893, lw_label, color=blue, transform=ax1.transAxes, fontsize=13,
         fontweight="bold", va="center", ha="left", zorder=7)
ax1.add_patch(Rectangle((0.1975, 0.0396), 0.7745, 0.0994, transform=ax1.transAxes, **box_kw))
ax1.text(0.2124, 0.1095, ii_stats, color=salmon, transform=ax1.transAxes, fontsize=13.3,
         fontweight="bold", va="center", ha="left", zorder=7)
ax1.text(0.2124, 0.0692, lw_stats, color=blue, transform=ax1.transAxes, fontsize=13.3,
         fontweight="bold", va="center", ha="left", zorder=7)

# ----- right panel -----
ax2.set_xlim(-0.2, 0.2)
ax2.set_ylim(-0.2, 0.2)
for g in [-0.15, -0.1, -0.05, 0.05, 0.1, 0.15]:
    ax2.axvline(g, color="k", lw=0.8, ls=grid_dash, zorder=0.5)
    ax2.axhline(g, color="k", lw=0.8, ls=grid_dash, zorder=0.5)
L = 0.2
for w, col in zip(band_halfwidth, band_colors):
    verts = [(-w, -L), (w, -L), (w, -w), (L, -w), (L, w), (w, w), (w, L), (-w, L),
             (-w, w), (-L, w), (-L, -w), (-w, -w)]
    ax2.add_patch(Polygon(verts, closed=True, facecolor=col, edgecolor="black", lw=0.9, zorder=1))

core_rows = [(x, y) for y, xs in zip(core_rows_y, core_rows_x) for x in xs]
right_pts = (pts_core + pts_core_fill + core_rows + pts_halo_ur + pts_halo_ul + pts_below_core
             + pts_left_row + pts_left_band + pts_lower_left + pts_upper_column + pts_right_band
             + pts_upper_right)
ax2.scatter([p[0] for p in right_pts], [p[1] for p in right_pts], s=26, c="black",
            linewidths=0, zorder=3)
style_axes(ax2)
ax2.xaxis.set_minor_locator(MultipleLocator(0.01))
ax2.yaxis.set_minor_locator(MultipleLocator(0.01))
ax2.set_xticks(frac_ticks, labels=frac_ticklabels, **tick_font)
ax2.set_yticks(frac_ticks, labels=frac_ticklabels, **tick_font)
ax2.set_xlabel(r"Fractional Variation in <I$_{\rm 60pc}$>$_{\rm 500pc}$", **label_font_r)
ax2.set_ylabel(r"Fractional Variation in <σ$_{\rm 60pc}$>$_{\rm 500pc}$", **label_font_r)
ax2.xaxis.set_label_coords(0.513, -0.08)
ax2.yaxis.set_label_coords(-0.098, 0.5)

ax2.add_patch(Rectangle((0.7278, 0.0396), 0.2485, 0.2565, transform=ax2.transAxes, **box_kw))
color_of = dict(zip(galaxies, band_colors))
ys = [0.2664, 0.2279, 0.1900, 0.1515, 0.1137, 0.0758]
for name, yy in zip(legend_order, ys):
    if name == "Antennae":
        ax2.text(0.7422, yy, name, color=color_of[name], transform=ax2.transAxes, fontsize=14,
                 fontweight="bold", ha="left", va="center", zorder=7)
    else:
        ax2.text(0.9316, yy, name, color=color_of[name], transform=ax2.transAxes, fontsize=14,
                 fontweight="bold", ha="right", va="center", zorder=7)

fig.savefig("out.png", dpi=100)
